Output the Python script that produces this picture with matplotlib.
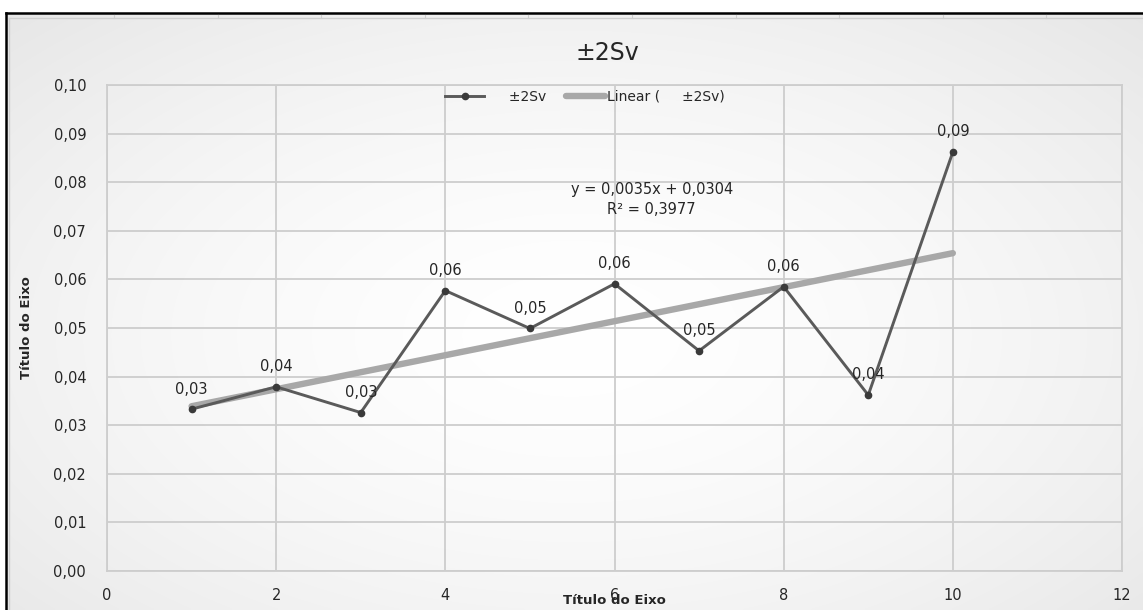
import numpy as np
import matplotlib.pyplot as plt

# medições por ponto
x_pts = [1, 2, 3, 4, 5, 6, 7, 8, 9, 10]
y_pts = [0.0333, 0.0379, 0.0326, 0.0577, 0.0499, 0.0591, 0.0453, 0.0585, 0.0362, 0.0862]

# linha de tendência (Excel)
slope = 0.0035
intercept = 0.0304
r2 = 0.3977

serie = '     ±2Sv'
x_ticks = [0, 2, 4, 6, 8, 10, 12]
y_ticks = [0.00, 0.01, 0.02, 0.03, 0.04, 0.05, 0.06, 0.07, 0.08, 0.09, 0.10]


def virgula(v, casas):
    return f'{v:.{casas}f}'.replace('.', ',')


fig = plt.figure(figsize=(11.43, 6.10), dpi=100)

# fundo com degradê suave
bg = fig.add_axes([0, 0, 1, 1], zorder=-2)
gx, gy = np.meshgrid(np.linspace(-1, 1, 400), np.linspace(-1, 1, 220))
r = np.sqrt((gx * 0.95) ** 2 + ((gy - 0.1) * 0.9) ** 2)
shade = 1.0 - 0.06 * np.clip(r, 0, 1.4) ** 1.6
bg.imshow(np.dstack([shade] * 3), aspect='auto', extent=[0, 1, 0, 1], interpolation='bilinear')
bg.set_xlim(0, 1)
bg.set_ylim(0, 1)
bg.axis('off')

W, H = 1143.0, 610.0
# moldura
bg.fill_between([0, 1], 1 - 12 / H, 1, color='white', zorder=3)
bg.fill_between([0, 5 / W], 0, 1, color='white', zorder=3)
bg.plot([6 / W, 1], [1 - 13 / H, 1 - 13 / H], color='black', lw=1.8, zorder=4)
bg.plot([6 / W, 6 / W], [0, 1 - 13 / H], color='black', lw=1.8, zorder=4)
bg.plot([9 / W, 1], [1 - 18 / H, 1 - 18 / H], color='#cfcfcf', lw=1.0, zorder=4)
bg.plot([9 / W, 9 / W], [0, 1 - 18 / H], color='#cfcfcf', lw=1.0, zorder=4)
for cx in np.arange(114, W, 103.6):
    bg.plot([cx / W, cx / W], [1 - 18 / H, 1 - 15 / H], color='#cfcfcf', lw=0.8, zorder=4)

ax = fig.add_axes([107 / W, 39 / H, (1122 - 107) / W, (571 - 85) / H])
ax.set_facecolor('none')

ax.set_xlim(0, 12)
ax.set_ylim(0, 0.10)
ax.set_xticks(x_ticks)
ax.set_yticks(y_ticks)
ax.set_xticklabels([str(t) for t in x_ticks])
ax.set_yticklabels([virgula(t, 2) for t in y_ticks])
ax.tick_params(axis='both', length=0, labelsize=10.5, colors='#262626')
ax.tick_params(axis='x', pad=12)
ax.tick_params(axis='y', pad=15)
ax.grid(True, color='#cdcdcd', lw=1.3)
for s in ax.spines.values():
    s.set_color('#cdcdcd')
    s.set_linewidth(1.3)

# tendência linear
xt = np.array([x_pts[0], x_pts[-1]])
ax.plot(xt, slope * xt + intercept, color='#a8a8a8', lw=4.6, solid_capstyle='round',
        zorder=3, label='Linear (' + serie + ')')

# série de dados
ax.plot(x_pts, y_pts, color='#5a5a5a', lw=2.1, marker='o', markersize=4.5,
        markerfacecolor='#3a3a3a', markeredgecolor='#3a3a3a', zorder=4, label=serie)

for xv, yv in zip(x_pts, y_pts):
    ax.annotate(virgula(yv, 2), (xv, yv), xytext=(0, 14.5), textcoords='offset points',
                ha='center', va='center', fontsize=10.5, color='#262626', zorder=5)

ax.text(6.44, 0.0765, 'y = ' + virgula(slope, 4) + 'x + ' + virgula(intercept, 4) +
        '\nR² = ' + virgula(r2, 4), ha='center', va='center', fontsize=10.5,
        color='#262626', linespacing=1.4)

ax.set_xlabel('Título do Eixo', fontsize=9.5, fontweight='bold', color='#262626', labelpad=-6)
ax.set_ylabel('Título do Eixo', fontsize=9.5, fontweight='bold', color='#262626', labelpad=15)

hs, ls = ax.get_legend_handles_labels()
fig.legend([hs[1], hs[0]], [ls[1], ls[0]], loc='center', bbox_to_anchor=(0.512, 1 - 97 / H),
           ncol=2, frameon=False, fontsize=10, handlelength=2.8, handletextpad=0.2,
           columnspacing=1.4, labelcolor='#262626')

fig.text(607 / W, 1 - 53 / H, '±2Sv', ha='center', va='center', fontsize=17, color='#262626')

fig.savefig('out.png', dpi=100)
